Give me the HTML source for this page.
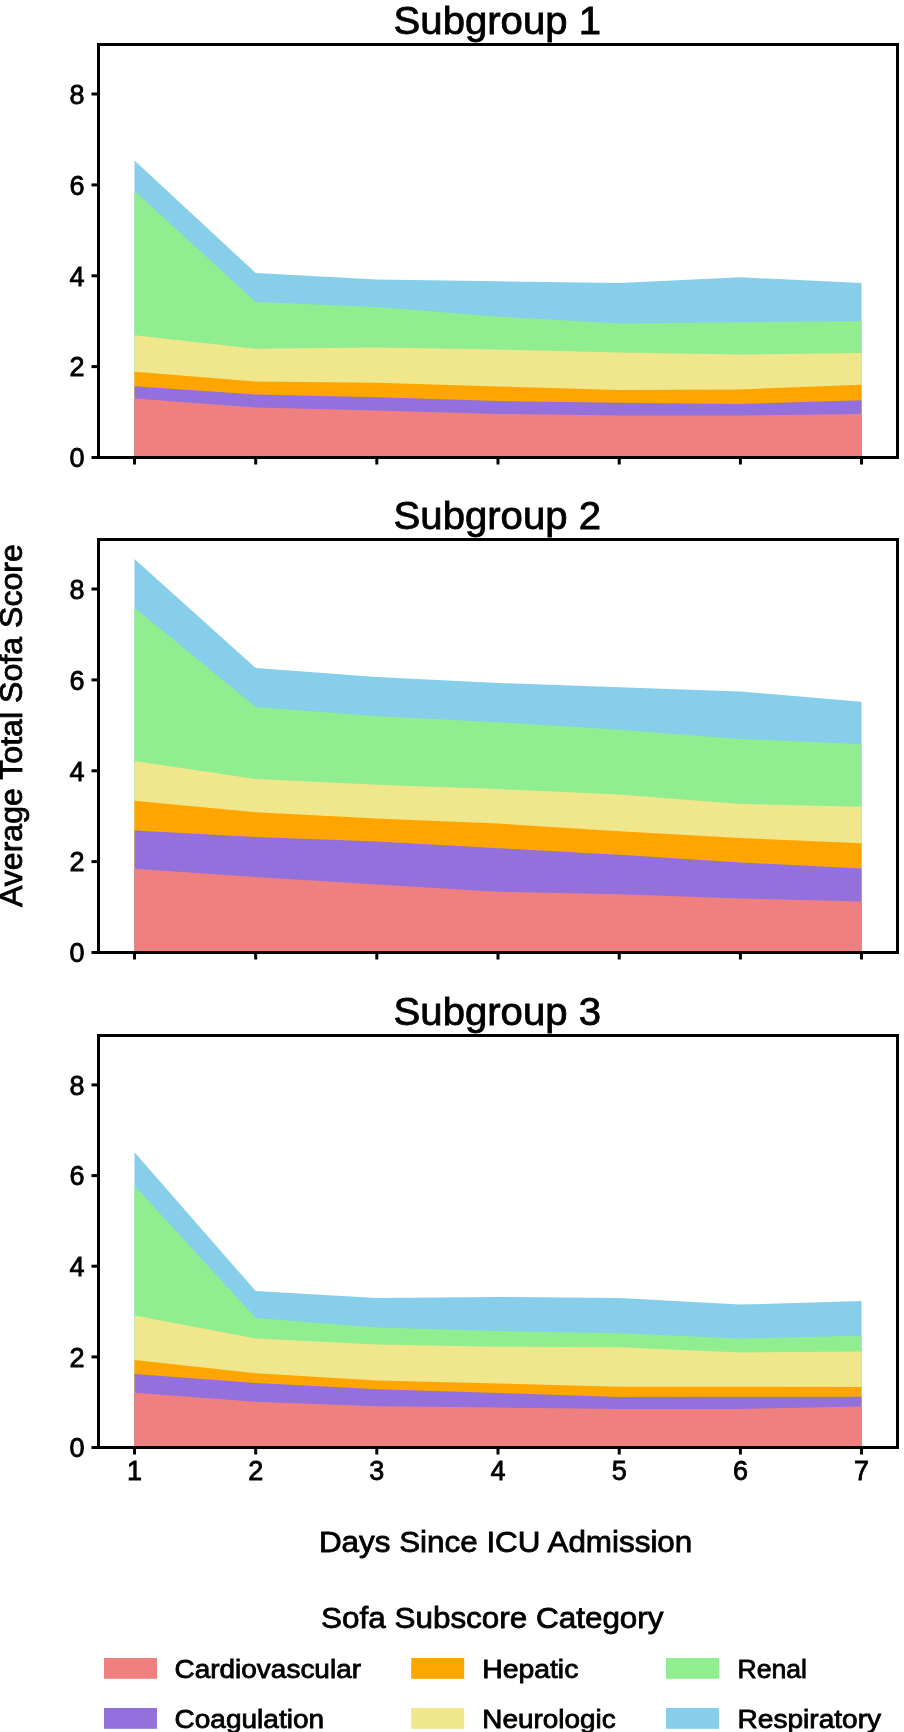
<!DOCTYPE html>
<html><head><meta charset="utf-8"><style>
html,body{margin:0;padding:0;background:#fff;width:904px;height:1732px;overflow:hidden;}
svg{display:block;will-change:transform;}
text{font-family:"Liberation Sans", sans-serif;fill:#000;stroke:#000;stroke-width:0.8px;}
</style></head><body>
<svg width="904" height="1732" viewBox="0 0 904 1732">
<rect width="904" height="1732" fill="#fff"/>
<polygon points="134.5,160.5 255.7,273.0 376.8,279.5 498.0,281.3 619.2,283.0 740.4,277.3 861.5,283.0 861.5,457.5 134.5,457.5" fill="#87ceeb"/>
<polygon points="134.5,191.0 255.7,302.0 376.8,307.0 498.0,316.7 619.2,323.5 740.4,322.3 861.5,321.0 861.5,457.5 134.5,457.5" fill="#90ee90"/>
<polygon points="134.5,335.2 255.7,348.8 376.8,347.6 498.0,349.4 619.2,352.5 740.4,354.5 861.5,353.0 861.5,457.5 134.5,457.5" fill="#f0e68c"/>
<polygon points="134.5,371.7 255.7,381.5 376.8,382.8 498.0,386.5 619.2,390.0 740.4,389.4 861.5,384.8 861.5,457.5 134.5,457.5" fill="#ffa500"/>
<polygon points="134.5,386.3 255.7,394.5 376.8,397.3 498.0,401.0 619.2,402.8 740.4,404.0 861.5,400.3 861.5,457.5 134.5,457.5" fill="#9370db"/>
<polygon points="134.5,398.6 255.7,407.5 376.8,410.6 498.0,414.0 619.2,415.5 740.4,415.5 861.5,413.9 861.5,457.5 134.5,457.5" fill="#f08080"/>
<rect x="98.5" y="44.5" width="799.0" height="413.0" fill="none" stroke="#000" stroke-width="3.0"/>
<line x1="91.5" y1="457.5" x2="98.5" y2="457.5" stroke="#000" stroke-width="3.0"/>
<text x="84.5" y="467.3" text-anchor="end" font-size="27" font-family="Liberation Sans, sans-serif">0</text>
<line x1="91.5" y1="366.6" x2="98.5" y2="366.6" stroke="#000" stroke-width="3.0"/>
<text x="84.5" y="376.4" text-anchor="end" font-size="27" font-family="Liberation Sans, sans-serif">2</text>
<line x1="91.5" y1="275.8" x2="98.5" y2="275.8" stroke="#000" stroke-width="3.0"/>
<text x="84.5" y="285.6" text-anchor="end" font-size="27" font-family="Liberation Sans, sans-serif">4</text>
<line x1="91.5" y1="184.9" x2="98.5" y2="184.9" stroke="#000" stroke-width="3.0"/>
<text x="84.5" y="194.7" text-anchor="end" font-size="27" font-family="Liberation Sans, sans-serif">6</text>
<line x1="91.5" y1="94.0" x2="98.5" y2="94.0" stroke="#000" stroke-width="3.0"/>
<text x="84.5" y="103.8" text-anchor="end" font-size="27" font-family="Liberation Sans, sans-serif">8</text>
<line x1="134.5" y1="457.5" x2="134.5" y2="464.5" stroke="#000" stroke-width="3.0"/>
<line x1="255.7" y1="457.5" x2="255.7" y2="464.5" stroke="#000" stroke-width="3.0"/>
<line x1="376.8" y1="457.5" x2="376.8" y2="464.5" stroke="#000" stroke-width="3.0"/>
<line x1="498.0" y1="457.5" x2="498.0" y2="464.5" stroke="#000" stroke-width="3.0"/>
<line x1="619.2" y1="457.5" x2="619.2" y2="464.5" stroke="#000" stroke-width="3.0"/>
<line x1="740.4" y1="457.5" x2="740.4" y2="464.5" stroke="#000" stroke-width="3.0"/>
<line x1="861.5" y1="457.5" x2="861.5" y2="464.5" stroke="#000" stroke-width="3.0"/>
<text x="497.3" y="34.2" text-anchor="middle" font-size="38" textLength="207.4" lengthAdjust="spacingAndGlyphs" font-family="Liberation Sans, sans-serif">Subgroup 1</text>
<polygon points="134.5,558.9 255.7,667.9 376.8,677.0 498.0,683.0 619.2,687.3 740.4,691.5 861.5,701.7 861.5,952.5 134.5,952.5" fill="#87ceeb"/>
<polygon points="134.5,607.7 255.7,707.0 376.8,716.2 498.0,722.2 619.2,729.8 740.4,738.9 861.5,744.3 861.5,952.5 134.5,952.5" fill="#90ee90"/>
<polygon points="134.5,761.1 255.7,779.0 376.8,784.7 498.0,789.1 619.2,794.6 740.4,803.9 861.5,806.8 861.5,952.5 134.5,952.5" fill="#f0e68c"/>
<polygon points="134.5,800.8 255.7,812.3 376.8,818.4 498.0,823.5 619.2,831.2 740.4,838.0 861.5,843.2 861.5,952.5 134.5,952.5" fill="#ffa500"/>
<polygon points="134.5,830.4 255.7,837.0 376.8,841.4 498.0,848.2 619.2,854.7 740.4,862.5 861.5,868.5 861.5,952.5 134.5,952.5" fill="#9370db"/>
<polygon points="134.5,868.8 255.7,877.1 376.8,884.5 498.0,891.7 619.2,894.2 740.4,898.5 861.5,901.5 861.5,952.5 134.5,952.5" fill="#f08080"/>
<rect x="98.5" y="539.5" width="799.0" height="413.0" fill="none" stroke="#000" stroke-width="3.0"/>
<line x1="91.5" y1="952.5" x2="98.5" y2="952.5" stroke="#000" stroke-width="3.0"/>
<text x="84.5" y="962.3" text-anchor="end" font-size="27" font-family="Liberation Sans, sans-serif">0</text>
<line x1="91.5" y1="861.6" x2="98.5" y2="861.6" stroke="#000" stroke-width="3.0"/>
<text x="84.5" y="871.4" text-anchor="end" font-size="27" font-family="Liberation Sans, sans-serif">2</text>
<line x1="91.5" y1="770.8" x2="98.5" y2="770.8" stroke="#000" stroke-width="3.0"/>
<text x="84.5" y="780.6" text-anchor="end" font-size="27" font-family="Liberation Sans, sans-serif">4</text>
<line x1="91.5" y1="679.9" x2="98.5" y2="679.9" stroke="#000" stroke-width="3.0"/>
<text x="84.5" y="689.7" text-anchor="end" font-size="27" font-family="Liberation Sans, sans-serif">6</text>
<line x1="91.5" y1="589.0" x2="98.5" y2="589.0" stroke="#000" stroke-width="3.0"/>
<text x="84.5" y="598.8" text-anchor="end" font-size="27" font-family="Liberation Sans, sans-serif">8</text>
<line x1="134.5" y1="952.5" x2="134.5" y2="959.5" stroke="#000" stroke-width="3.0"/>
<line x1="255.7" y1="952.5" x2="255.7" y2="959.5" stroke="#000" stroke-width="3.0"/>
<line x1="376.8" y1="952.5" x2="376.8" y2="959.5" stroke="#000" stroke-width="3.0"/>
<line x1="498.0" y1="952.5" x2="498.0" y2="959.5" stroke="#000" stroke-width="3.0"/>
<line x1="619.2" y1="952.5" x2="619.2" y2="959.5" stroke="#000" stroke-width="3.0"/>
<line x1="740.4" y1="952.5" x2="740.4" y2="959.5" stroke="#000" stroke-width="3.0"/>
<line x1="861.5" y1="952.5" x2="861.5" y2="959.5" stroke="#000" stroke-width="3.0"/>
<text x="497.3" y="529.2" text-anchor="middle" font-size="38" textLength="207.4" lengthAdjust="spacingAndGlyphs" font-family="Liberation Sans, sans-serif">Subgroup 2</text>
<polygon points="134.5,1152.3 255.7,1291.1 376.8,1298.1 498.0,1297.0 619.2,1298.1 740.4,1304.6 861.5,1301.0 861.5,1447.5 134.5,1447.5" fill="#87ceeb"/>
<polygon points="134.5,1185.7 255.7,1318.0 376.8,1327.5 498.0,1331.1 619.2,1333.2 740.4,1338.4 861.5,1335.8 861.5,1447.5 134.5,1447.5" fill="#90ee90"/>
<polygon points="134.5,1315.4 255.7,1338.4 376.8,1344.4 498.0,1346.7 619.2,1347.2 740.4,1352.4 861.5,1351.4 861.5,1447.5 134.5,1447.5" fill="#f0e68c"/>
<polygon points="134.5,1360.0 255.7,1373.2 376.8,1380.5 498.0,1383.5 619.2,1386.7 740.4,1386.7 861.5,1387.1 861.5,1447.5 134.5,1447.5" fill="#ffa500"/>
<polygon points="134.5,1373.9 255.7,1383.1 376.8,1389.3 498.0,1393.0 619.2,1397.1 740.4,1396.8 861.5,1396.8 861.5,1447.5 134.5,1447.5" fill="#9370db"/>
<polygon points="134.5,1392.7 255.7,1401.8 376.8,1406.2 498.0,1407.5 619.2,1409.1 740.4,1408.9 861.5,1406.5 861.5,1447.5 134.5,1447.5" fill="#f08080"/>
<rect x="98.5" y="1035.5" width="799.0" height="412.0" fill="none" stroke="#000" stroke-width="3.0"/>
<line x1="91.5" y1="1447.5" x2="98.5" y2="1447.5" stroke="#000" stroke-width="3.0"/>
<text x="84.5" y="1457.3" text-anchor="end" font-size="27" font-family="Liberation Sans, sans-serif">0</text>
<line x1="91.5" y1="1356.9" x2="98.5" y2="1356.9" stroke="#000" stroke-width="3.0"/>
<text x="84.5" y="1366.7" text-anchor="end" font-size="27" font-family="Liberation Sans, sans-serif">2</text>
<line x1="91.5" y1="1266.2" x2="98.5" y2="1266.2" stroke="#000" stroke-width="3.0"/>
<text x="84.5" y="1276.0" text-anchor="end" font-size="27" font-family="Liberation Sans, sans-serif">4</text>
<line x1="91.5" y1="1175.6" x2="98.5" y2="1175.6" stroke="#000" stroke-width="3.0"/>
<text x="84.5" y="1185.4" text-anchor="end" font-size="27" font-family="Liberation Sans, sans-serif">6</text>
<line x1="91.5" y1="1084.9" x2="98.5" y2="1084.9" stroke="#000" stroke-width="3.0"/>
<text x="84.5" y="1094.7" text-anchor="end" font-size="27" font-family="Liberation Sans, sans-serif">8</text>
<line x1="134.5" y1="1447.5" x2="134.5" y2="1454.5" stroke="#000" stroke-width="3.0"/>
<text x="134.5" y="1479.5" text-anchor="middle" font-size="27" font-family="Liberation Sans, sans-serif">1</text>
<line x1="255.7" y1="1447.5" x2="255.7" y2="1454.5" stroke="#000" stroke-width="3.0"/>
<text x="255.7" y="1479.5" text-anchor="middle" font-size="27" font-family="Liberation Sans, sans-serif">2</text>
<line x1="376.8" y1="1447.5" x2="376.8" y2="1454.5" stroke="#000" stroke-width="3.0"/>
<text x="376.8" y="1479.5" text-anchor="middle" font-size="27" font-family="Liberation Sans, sans-serif">3</text>
<line x1="498.0" y1="1447.5" x2="498.0" y2="1454.5" stroke="#000" stroke-width="3.0"/>
<text x="498.0" y="1479.5" text-anchor="middle" font-size="27" font-family="Liberation Sans, sans-serif">4</text>
<line x1="619.2" y1="1447.5" x2="619.2" y2="1454.5" stroke="#000" stroke-width="3.0"/>
<text x="619.2" y="1479.5" text-anchor="middle" font-size="27" font-family="Liberation Sans, sans-serif">5</text>
<line x1="740.4" y1="1447.5" x2="740.4" y2="1454.5" stroke="#000" stroke-width="3.0"/>
<text x="740.4" y="1479.5" text-anchor="middle" font-size="27" font-family="Liberation Sans, sans-serif">6</text>
<line x1="861.5" y1="1447.5" x2="861.5" y2="1454.5" stroke="#000" stroke-width="3.0"/>
<text x="861.5" y="1479.5" text-anchor="middle" font-size="27" font-family="Liberation Sans, sans-serif">7</text>
<text x="497.3" y="1025.2" text-anchor="middle" font-size="38" textLength="207.4" lengthAdjust="spacingAndGlyphs" font-family="Liberation Sans, sans-serif">Subgroup 3</text>
<text transform="translate(21.5,725.6) rotate(-90)" text-anchor="middle" font-size="30.5" textLength="363" lengthAdjust="spacingAndGlyphs" font-family="Liberation Sans, sans-serif">Average Total Sofa Score</text>
<text x="505.6" y="1551.5" text-anchor="middle" font-size="30" textLength="373.4" lengthAdjust="spacingAndGlyphs" font-family="Liberation Sans, sans-serif">Days Since ICU Admission</text>
<text x="492.3" y="1627.5" text-anchor="middle" font-size="30" textLength="342.5" lengthAdjust="spacingAndGlyphs" font-family="Liberation Sans, sans-serif">Sofa Subscore Category</text>
<rect x="104" y="1658" width="53" height="20.8" fill="#f08080"/>
<text x="174.5" y="1677.8" font-size="26" textLength="186.5" lengthAdjust="spacingAndGlyphs" font-family="Liberation Sans, sans-serif">Cardiovascular</text>
<rect x="104" y="1708" width="53" height="20.8" fill="#9370db"/>
<text x="174.5" y="1727.5" font-size="26" textLength="149.6" lengthAdjust="spacingAndGlyphs" font-family="Liberation Sans, sans-serif">Coagulation</text>
<rect x="411.2" y="1658" width="53" height="20.8" fill="#ffa500"/>
<text x="482.3" y="1677.8" font-size="26" textLength="96" lengthAdjust="spacingAndGlyphs" font-family="Liberation Sans, sans-serif">Hepatic</text>
<rect x="411.2" y="1708" width="53" height="20.8" fill="#f0e68c"/>
<text x="482.3" y="1727.5" font-size="26" textLength="133.3" lengthAdjust="spacingAndGlyphs" font-family="Liberation Sans, sans-serif">Neurologic</text>
<rect x="666" y="1658" width="53" height="20.8" fill="#90ee90"/>
<text x="737.5" y="1677.8" font-size="26" textLength="69.4" lengthAdjust="spacingAndGlyphs" font-family="Liberation Sans, sans-serif">Renal</text>
<rect x="666" y="1708" width="53" height="20.8" fill="#87ceeb"/>
<text x="737.5" y="1727.5" font-size="26" textLength="143.6" lengthAdjust="spacingAndGlyphs" font-family="Liberation Sans, sans-serif">Respiratory</text>
</svg>
</body></html>
